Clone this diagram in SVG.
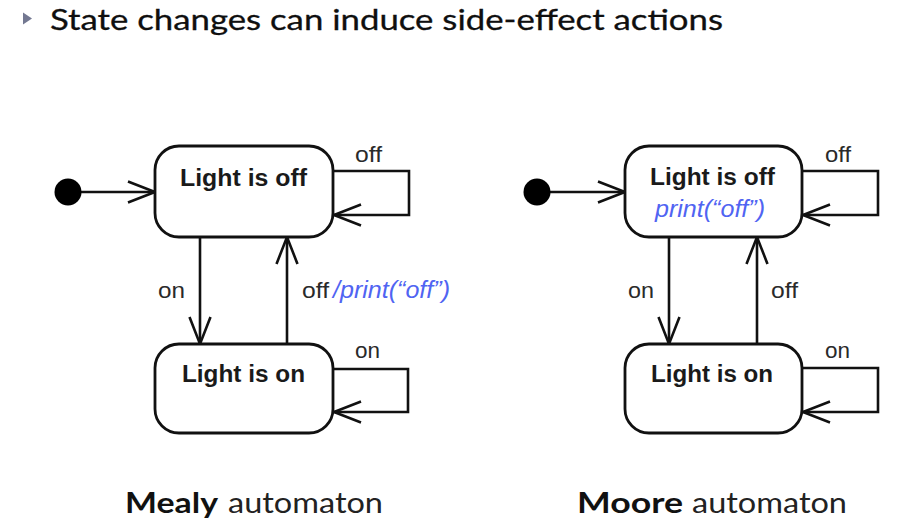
<svg xmlns="http://www.w3.org/2000/svg" width="911" height="532" viewBox="0 0 911 532">
<style>
.box{fill:#fff;stroke:#111;stroke-width:2.8}
.ln{fill:none;stroke:#111;stroke-width:2.6}
.st{font-family:"Liberation Sans",Arial,sans-serif;font-weight:bold;font-size:23px;fill:#1a1a1a}
.lb{font-family:"Liberation Sans",Arial,sans-serif;font-size:22px;fill:#2a2a2a}
.act{font-family:"Liberation Sans",Arial,sans-serif;font-style:italic;font-size:23px;fill:#5064f2}
.hd{font-family:Lato,"Open Sans",sans-serif;font-size:29.5px;fill:#0f0f0f;stroke:#0f0f0f;stroke-width:0.3}
.tb{font-family:Lato,"Open Sans",sans-serif;font-weight:bold;font-size:29px;fill:#111}
.tr{font-family:Lato,"Open Sans",sans-serif;font-size:29px;fill:#222}
</style>
<defs>
<marker id="arr" markerUnits="userSpaceOnUse" markerWidth="40" markerHeight="30" viewBox="-30 -15 40 30" refX="0" refY="0" orient="auto" overflow="visible">
<path d="M -27 -10.5 L 0 0 L -27 10.5" fill="none" stroke="#111" stroke-width="2.6"/>
</marker>
</defs>
<rect width="911" height="532" fill="#fff"/>
<g id="header">
<polygon points="23,12.5 32,18.5 23,24.5" fill="#737891"/>
<text class="hd" x="50" y="30" textLength="673" lengthAdjust="spacingAndGlyphs">State changes can induce side-effect actions</text>
</g>
<g id="connectors">
<line class="ln" x1="80" y1="192" x2="155" y2="192" marker-end="url(#arr)"/>
<path class="ln" d="M 333 171 H 409 V 215 H 334" marker-end="url(#arr)"/>
<line class="ln" x1="200" y1="237" x2="200" y2="344" marker-end="url(#arr)"/>
<line class="ln" x1="287" y1="344" x2="287" y2="237" marker-end="url(#arr)"/>
<path class="ln" d="M 333 369 H 408 V 412 H 334" marker-end="url(#arr)"/>
<line class="ln" x1="549" y1="192" x2="625" y2="192" marker-end="url(#arr)"/>
<path class="ln" d="M 802 171 H 878 V 215 H 803" marker-end="url(#arr)"/>
<line class="ln" x1="669" y1="237" x2="669" y2="344" marker-end="url(#arr)"/>
<line class="ln" x1="757" y1="344" x2="757" y2="237" marker-end="url(#arr)"/>
<path class="ln" d="M 802 368 H 878 V 412 H 803" marker-end="url(#arr)"/>
</g>
<g id="mealy-init"><circle cx="68" cy="192" r="13.5" fill="#000"/></g>
<g id="mealy-off">
<rect class="box" x="155" y="146" width="178" height="91" rx="24"/>
<text class="st" x="180" y="186" textLength="127" lengthAdjust="spacingAndGlyphs">Light is off</text>
</g>
<g id="mealy-on">
<rect class="box" x="155" y="344" width="178" height="89" rx="24"/>
<text class="st" x="182" y="382" textLength="123" lengthAdjust="spacingAndGlyphs">Light is on</text>
</g>
<g id="mealy-labels">
<text class="lb" x="355" y="162" textLength="27" lengthAdjust="spacingAndGlyphs">off</text>
<text class="lb" x="158" y="298" textLength="27" lengthAdjust="spacingAndGlyphs">on</text>
<text class="lb" x="302" y="298" textLength="27" lengthAdjust="spacingAndGlyphs">off</text>
<text class="act" x="333" y="298" textLength="117" lengthAdjust="spacingAndGlyphs">/print(“off”)</text>
<text class="lb" x="355" y="358" textLength="25" lengthAdjust="spacingAndGlyphs">on</text>
</g>
<g id="moore-init"><circle cx="537" cy="192" r="13.5" fill="#000"/></g>
<g id="moore-off">
<rect class="box" x="625" y="146" width="177" height="91" rx="24"/>
<text class="st" x="650" y="185" textLength="125" lengthAdjust="spacingAndGlyphs">Light is off</text>
<text class="act" x="655" y="217" textLength="110" lengthAdjust="spacingAndGlyphs">print(“off”)</text>
</g>
<g id="moore-on">
<rect class="box" x="625" y="344" width="177" height="89" rx="24"/>
<text class="st" x="651" y="382" textLength="122" lengthAdjust="spacingAndGlyphs">Light is on</text>
</g>
<g id="moore-labels">
<text class="lb" x="825" y="162" textLength="26" lengthAdjust="spacingAndGlyphs">off</text>
<text class="lb" x="628" y="298" textLength="26" lengthAdjust="spacingAndGlyphs">on</text>
<text class="lb" x="771" y="298" textLength="27" lengthAdjust="spacingAndGlyphs">off</text>
<text class="lb" x="825" y="358" textLength="25" lengthAdjust="spacingAndGlyphs">on</text>
</g>
<g id="titles">
<text class="tb" x="125" y="513" textLength="93" lengthAdjust="spacingAndGlyphs">Mealy</text>
<text class="tr" x="228" y="513" textLength="155" lengthAdjust="spacingAndGlyphs">automaton</text>
<text class="tb" x="577" y="513" textLength="106" lengthAdjust="spacingAndGlyphs">Moore</text>
<text class="tr" x="692" y="513" textLength="155" lengthAdjust="spacingAndGlyphs">automaton</text>
</g>
</svg>
